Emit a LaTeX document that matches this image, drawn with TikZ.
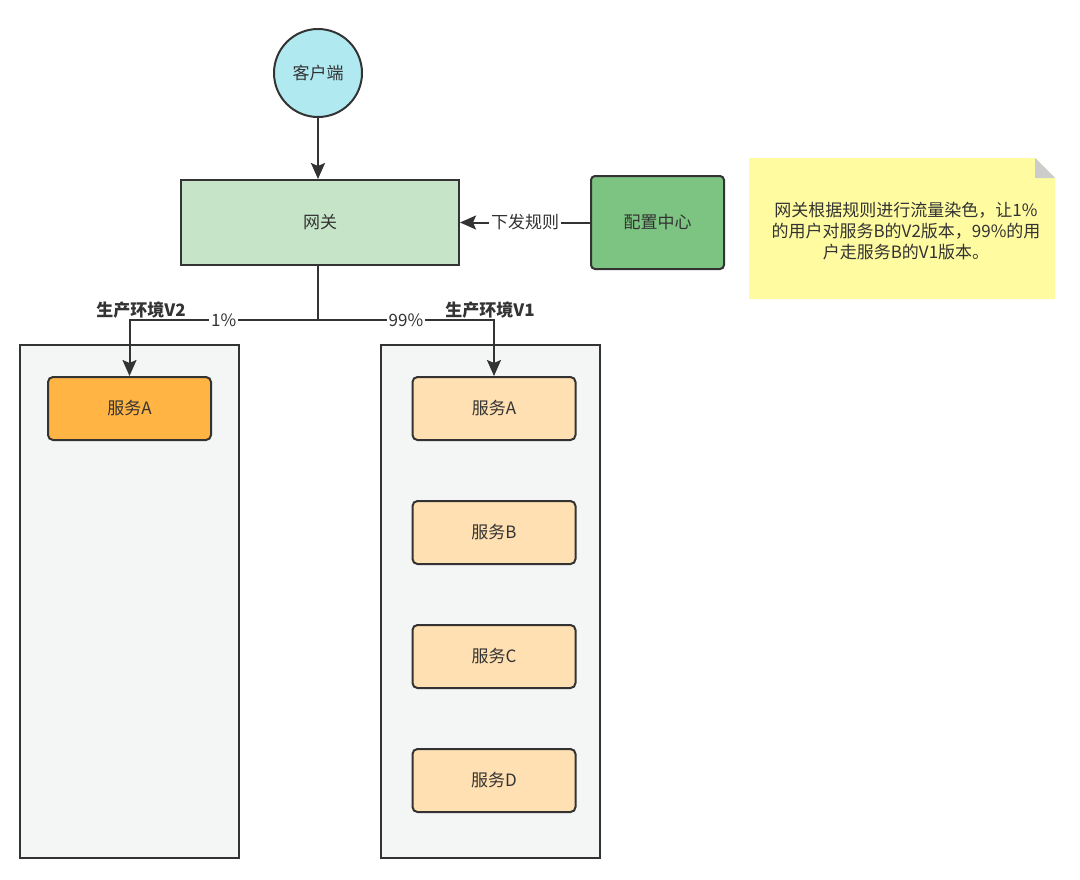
\documentclass[tikz,border=0pt]{standalone}
\usepackage{fontspec}
\newfontfamily\cjk{Noto Sans CJK SC}
\usepackage{tikz}
\usetikzlibrary{positioning,arrows.meta,shapes}

\definecolor{linegray}{HTML}{333333}
\definecolor{clientcyan}{HTML}{B0E9F0}
\definecolor{gwgreen}{HTML}{C6E5C8}
\definecolor{cfggreen}{HTML}{7DC381}
\definecolor{noteyellow}{HTML}{FEFBA1}
\definecolor{envgray}{HTML}{F4F5F5}
\definecolor{svcorange}{HTML}{FFB444}
\definecolor{svclight}{HTML}{FFE0B2}

\begin{document}
\begin{tikzpicture}[
    x=0.5pt, y=-0.5pt,
    every node/.style={font=\cjk\fontsize{8.5}{10}\selectfont, text=linegray},
    box/.style={draw=linegray, line width=1pt, align=center, inner sep=2pt},
    client/.style={box, circle, fill=clientcyan, minimum size=44pt},
    gateway/.style={box, fill=gwgreen, minimum width=139pt, minimum height=42.5pt},
    config/.style={box, rounded corners=2pt, fill=cfggreen, minimum width=66.5pt, minimum height=46.5pt},
    env/.style={box, fill=envgray, minimum width=109.5pt, minimum height=256.5pt},
    svc/.style={box, rounded corners=2.5pt, fill=svclight, minimum width=81.5pt, minimum height=31.5pt},
    svcnew/.style={svc, fill=svcorange},
    envlbl/.style={font=\cjk\bfseries\fontsize{8.5}{10}\selectfont, inner sep=1pt},
    ar/.style={-{Stealth[length=8pt, width=7pt, inset=1.5pt]}, line width=1pt, draw=linegray},
    lbl/.style={fill=white, inner sep=1pt},
]
\useasboundingbox (0,0) rectangle (1080,879);

% Client, gateway and config center.
\node[client]  (client) at (318,73)    {客户端};
\node[gateway] (gw)     at (320,222.5) {网关};
\node[config]  (cfg)    at (657.5,222.5) {配置中心};

% Sticky note with folded corner.
\fill[noteyellow] (749,158) -- (1035,158) -- (1055,178) -- (1055,299) -- (749,299) -- cycle;
\fill[black!20] (1035,158) -- (1055,178) -- (1035,178) -- cycle;
\node[align=center, font=\cjk\fontsize{8.5}{10.5}\selectfont] (note) at (906,231)
    {网关根据规则进行流量染色，让1\%\\的用户对服务B的V2版本，99\%的用\\户走服务B的V1版本。};

% Environments.
\node[env] (v2env) at (129.5,601.5) {};
\node[env] (v1env) at (490.5,601.5) {};
\node[envlbl] (v2lbl) at (141,310) {生产环境V2};
\node[envlbl] (v1lbl) at (490,310) {生产环境V1};

% Services.
\node[svcnew] (v2a) at (129.5,408.5) {服务A};
\node[svc] (v1a) at (494,408.5) {服务A};
\node[svc, below=29.5pt of v1a] (v1b) {服务B};
\node[svc, below=29.5pt of v1b] (v1c) {服务C};
\node[svc, below=29.5pt of v1c] (v1d) {服务D};

% Connectors.
\draw[ar] (client) -- (client |- gw.north);
\draw[ar] (cfg) -- node[lbl]{下发规则} (gw);
\coordinate (split) at (318,320);
\draw[line width=1pt, draw=linegray] (gw.south -| split) -- (split);
\draw[ar] (split) -| node[lbl, pos=0.25]{1\%} (v2a.north);
\draw[ar] (split) -| node[lbl, pos=0.25]{99\%} (v1a.north);
\end{tikzpicture}
\end{document}
